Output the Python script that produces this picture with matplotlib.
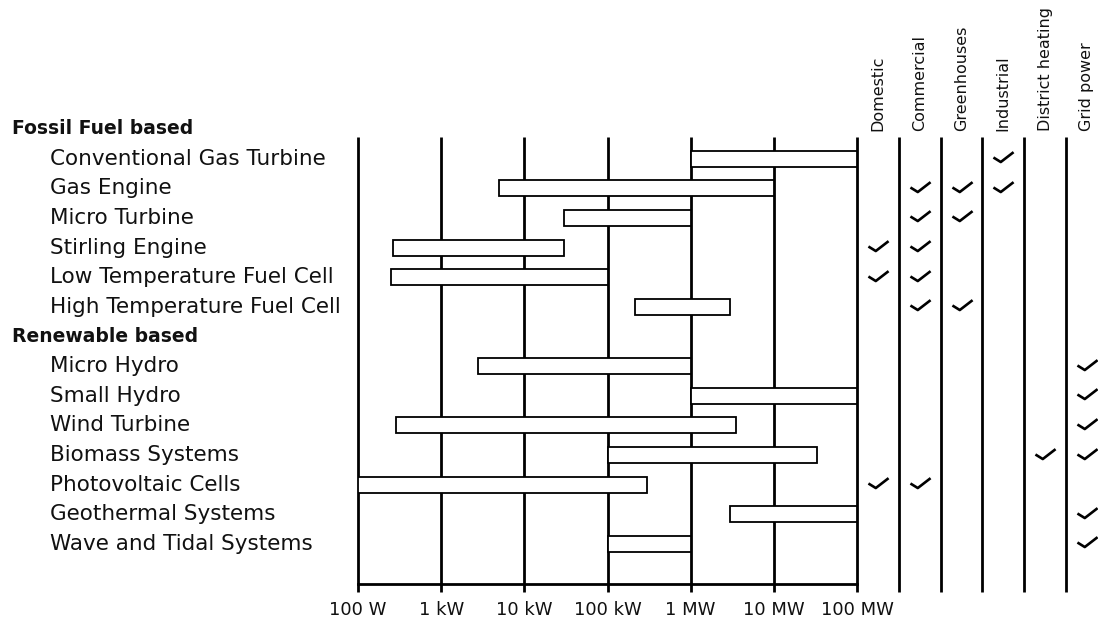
import matplotlib
matplotlib.use("Agg")
import matplotlib.pyplot as plt
from matplotlib.path import Path
import matplotlib.transforms as mtransforms

plt.rcParams['font.family'] = ['DejaVu Sans']

# ---------------- data ----------------
groups = ["Fossil Fuel based", "Renewable based"]
fossil_techs = ["Conventional Gas Turbine", "Gas Engine", "Micro Turbine", "Stirling Engine",
                "Low Temperature Fuel Cell", "High Temperature Fuel Cell"]
fossil_low_w = [1e6, 5e3, 30e3, 260, 250, 215e3]
fossil_high_w = [1e8, 1e7, 1e6, 30e3, 1e5, 3e6]
renew_techs = ["Micro Hydro", "Small Hydro", "Wind Turbine", "Biomass Systems",
               "Photovoltaic Cells", "Geothermal Systems", "Wave and Tidal Systems"]
renew_low_w = [2.8e3, 1e6, 290, 1e5, 100, 3e6, 1e5]
renew_high_w = [1e6, 1e8, 3.5e6, 3.3e7, 3e5, 1e8, 1e6]

applications = ["Domestic", "Commercial", "Greenhouses", "Industrial", "District heating", "Grid power"]
fossil_uses = [["Industrial"],
               ["Commercial", "Greenhouses", "Industrial"],
               ["Commercial", "Greenhouses"],
               ["Domestic", "Commercial"],
               ["Domestic", "Commercial"],
               ["Commercial", "Greenhouses"]]
renew_uses = [["Grid power"], ["Grid power"], ["Grid power"],
              ["District heating", "Grid power"],
              ["Domestic", "Commercial"],
              ["Grid power"], ["Grid power"]]

tick_values = [1e2, 1e3, 1e4, 1e5, 1e6, 1e7, 1e8]
tick_labels = ["100 W", "1 kW", "10 kW", "100 kW", "1 MW", "10 MW", "100 MW"]

# ---------------- layout ----------------
W, H = 1098, 624
fig = plt.figure(figsize=(W / 100, H / 100), dpi=100)

ax_left, ax_right = 358 / W, 857 / W
ax_bot, ax_top = 1 - 584 / H, 1 - 137 / H
ax = fig.add_axes([ax_left, ax_bot, ax_right - ax_left, ax_top - ax_bot])
ax2 = fig.add_axes([ax_right, ax_bot, 1 - ax_right, ax_top - ax_bot], sharey=ax)

row_px = 29.64
y_top = (137 - 129) / row_px
y_bot = (584 - 129) / row_px
ax.set_ylim(y_bot, y_top)

all_entries = []
r = 0
for g, techs, lo, hi, uses in [(groups[0], fossil_techs, fossil_low_w, fossil_high_w, fossil_uses),
                               (groups[1], renew_techs, renew_low_w, renew_high_w, renew_uses)]:
    all_entries.append(("head", g, r, None, None, None))
    r += 1
    for t, l, h, u in zip(techs, lo, hi, uses):
        all_entries.append(("tech", t, r, l, h, u))
        r += 1

ax.set_xscale('log')
ax.set_xlim(tick_values[0], tick_values[-1])
ax.minorticks_off()
ax.set_xticks(tick_values)
ax.set_xticklabels(tick_labels, fontsize=13, color='#111111')
ax.tick_params(axis='x', length=0, pad=12)
ax.set_yticks([])
for s in ['top', 'left', 'right']:
    ax.spines[s].set_visible(False)
ax.spines['bottom'].set_linewidth(2)
ax.patch.set_alpha(0)

ext = -8 / 447
trans = mtransforms.blended_transform_factory(ax.transData, ax.transAxes)
ax.vlines(tick_values, ext, 1, transform=trans, color='black', lw=2, clip_on=False, zorder=1)

bar_h = 16 / row_px
label_trans = mtransforms.blended_transform_factory(fig.transFigure, ax.transData)
for kind, name, y, lo, hi, uses in all_entries:
    if kind == "head":
        fig.text(12 / W, y, name, transform=label_trans, va='center', ha='left',
                 fontsize=13.5, fontweight='bold', color='#111111')
    else:
        fig.text(50 / W, y, name, transform=label_trans, va='center', ha='left',
                 fontsize=15.5, color='#111111')
        ax.barh(y, hi - lo, left=lo, height=bar_h, color='white', edgecolor='black',
                linewidth=1.3, zorder=3)

# ---------------- application columns ----------------
ncols_visible = (W - 857) / 41.8
ax2.set_xlim(0, ncols_visible)
ax2.axis('off')
trans2 = mtransforms.blended_transform_factory(ax2.transData, ax2.transAxes)
ax2.vlines(range(1, len(applications)), ext, 1, transform=trans2, color='black', lw=2,
           clip_on=False)

check_path = Path([(-1.0, 0.0), (-0.27, -0.45), (1.0, 0.53)],
                  [Path.MOVETO, Path.LINETO, Path.LINETO])

hdr_y = 1 + (137 - 131) / 447
for i, a in enumerate(applications):
    ax2.text(i + 0.5, hdr_y, a, transform=trans2, rotation=90, ha='center', va='bottom',
             fontsize=11.5, color='#111111', clip_on=False)

xs, ys = [], []
for kind, name, y, lo, hi, uses in all_entries:
    if kind != "tech":
        continue
    for u in uses:
        xs.append(applications.index(u) + 0.5)
        ys.append(y - 1.5 / row_px)
ax2.plot(xs, ys, linestyle='none', marker=check_path, markersize=14.5, markeredgewidth=1.9,
         markeredgecolor='black', fillstyle='none', clip_on=False)

fig.savefig("out.png", dpi=100)
